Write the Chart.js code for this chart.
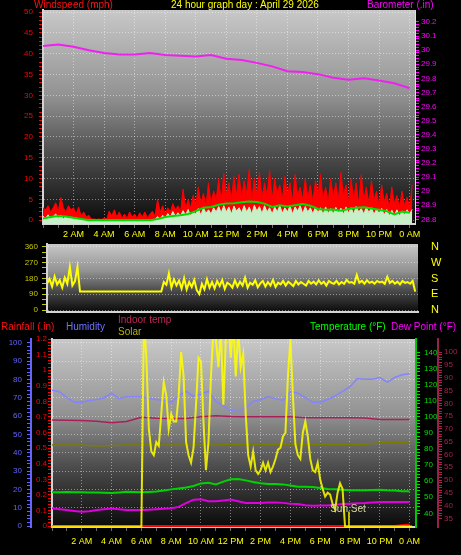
<!DOCTYPE html>
<html>
<head>
<meta charset="utf-8">
<script src="https://cdn.jsdelivr.net/npm/chart.js@4.4.1/dist/chart.umd.min.js"></script>
<style>
  body { margin: 0; background: #000; width: 461px; height: 555px; overflow: hidden; position: relative; font-family: "Liberation Sans", Arial, sans-serif; }
  canvas { position: absolute; left: 0; }
  .t { position: absolute; font-size: 10px; line-height: 12px; white-space: nowrap; }
</style>
</head>
<body>
<canvas id="windChart" width="461" height="243" style="top:0"></canvas>
<canvas id="dirChart" width="461" height="80" style="top:238px"></canvas>
<canvas id="tempChart" width="461" height="237" style="top:318px"></canvas>

<div class="t" style="left:34px;top:-1px;color:#ff1010">Windspeed (mph)</div>
<div class="t" style="left:171px;top:-1px;color:#ffff00">24 hour graph day : April 29 2026</div>
<div class="t" style="left:367px;top:-1px;color:#ff00ff">Barometer (.in)</div>
<div class="t" style="left:1px;top:321px;color:#ff1010">Rainfall (.in)</div>
<div class="t" style="left:66px;top:321px;color:#7070ff">Humidity</div>
<div class="t" style="left:118px;top:314px;color:#c02858">Indoor temp</div>
<div class="t" style="left:118px;top:326px;color:#b4b400">Solar</div>
<div class="t" style="left:310px;top:321px;color:#00ff00">Temperature (°F)</div>
<div class="t" style="left:391px;top:321px;color:#ff00ff">Dew Point (°F)</div>

<script>
const FONT = "'Liberation Sans', Arial, sans-serif";
const NARROW = "'Liberation Sans Narrow', 'Arial Narrow', 'Liberation Sans', Arial, sans-serif";
const GRID = "rgba(255,255,255,0.45)";

// x labels at 2, 4, ... 24 hours
const TIME_LABELS = ["2 AM", "4 AM", "6 AM", "8 AM", "10 AM", "12 PM",
  "2 PM", "4 PM", "6 PM", "8 PM", "10 PM", "0 AM"];

// ---- top panel: wind + barometer ----
// every 10 minutes from 0:00
const WIND_GUST = [
  3, 2.5, 3.5, 2, 3, 4.2,
  2.2, 5.5, 3, 2, 3.5, 2.5,
  3, 1.5, 3.2, 1, 2, 0.8,
  1.2, 0.3, 0.3, 0.2, 0.3, 0.2,
  0.5, 0.3, 2.2, 1, 2.5, 0.8,
  2, 0.5, 1.5, 0.5, 2, 0.8,
  1.5, 0.5, 1.8, 0.8, 2, 0.6,
  1.5, 2.2, 1, 5, 2, 3.5,
  1.5, 3, 2, 4, 2.5, 3.5,
  2, 7.5, 3, 5, 3, 6,
  3.5, 8, 4, 6.5, 3.5, 9,
  4, 7, 5, 10, 4.5, 11.3,
  6, 9, 5, 10.5, 6, 11,
  5.5, 9.5, 6.5, 12.3, 5, 10,
  6, 11.5, 5.5, 9, 6, 12,
  5, 10, 6.5, 8.5, 5, 10.5,
  6, 9, 4.5, 11, 6, 8,
  5, 10, 5.5, 8.5, 4.5, 9.5,
  6, 11, 5, 8, 4.5, 10,
  5.5, 9, 5, 11.5, 6, 8.5,
  4.5, 10, 5, 9, 4, 11,
  5, 8, 4, 9.5, 5, 7,
  3.5, 8.5, 4.5, 6.5, 3, 8,
  4, 6, 3, 7, 3.5, 5.5,
  3, 8.5
];
const WIND_SPEED = [
  1, 0.4, 1.3, 0.3, 0.9, 1.5,
  0.5, 1.2, 0.3, 1, 0.4, 0.8,
  0.3, 0.6, 0.2, 0.4, 0.1, 0.2,
  0, 0, 0, 0, 0, 0,
  0, 0, 0, 0, 0, 0,
  0, 0, 0, 0, 0, 0,
  0, 0, 0, 0, 0, 0,
  0, 0, 0.2, 0.9, 0.3, 1.2,
  0.4, 1.6, 0.8, 2.1, 0.9, 1.8,
  1, 2.3, 1.2, 2.6, 1, 2,
  1.5, 2.8, 1.2, 3, 1.7, 2.5,
  1.5, 3, 2, 3.3, 1.8, 3.5,
  2, 3.2, 1.5, 3.4, 2.2, 3,
  1.8, 3.5, 2, 3.2, 1.5, 3.6,
  2.2, 3.3, 1.6, 3.5, 2, 3,
  1.5, 3.2, 2, 3.5, 1.7, 3,
  2, 3.4, 1.5, 3.2, 2.2, 3.5,
  1.6, 3.3, 2, 3, 1.5, 3.2,
  1.8, 3, 1.4, 3.2, 1.6, 2.8,
  1.5, 3.1, 1.8, 2.9, 1.4, 3.2,
  1.7, 3, 1.5, 3.3, 2, 2.8,
  1.5, 3.2, 1.8, 3, 1.4, 2.7,
  1.6, 2.9, 1.2, 2.6, 1, 2.4,
  1.2, 2.5, 1, 2.2, 1.3, 2.5,
  1.5, 2.6
];
// every 30 minutes
const WIND_AVG = [
  0.4, 0.8, 1.0, 0.9, 0.6, 0.3, 0, 0, 0, 0,
  0, 0, 0, 0, 0, 0.3, 0.8, 1.0, 1.2, 1.5,
  2.2, 3.0, 3.2, 3.7, 4.0, 4.1, 4.3, 4.5, 4.4, 4.0,
  3.2, 3.6, 3.3, 3.6, 3.9, 3.5, 2.7, 2.5, 2.6, 2.3,
  2.7, 3.0, 3.1, 2.8, 2.5, 2.2, 1.4, 2.1, 1.8
];
// hourly
const BAROMETER = [
  30.03, 30.04, 30.025, 30.0, 29.98, 29.97, 29.97, 29.98, 29.965, 29.96,
  29.955, 29.965, 29.94, 29.93, 29.91, 29.885, 29.85, 29.845, 29.83, 29.805,
  29.79, 29.8, 29.785, 29.765, 29.73
];
const WIND_TICKS = [0, 5, 10, 15, 20, 25, 30, 35, 40, 45, 50];
const BARO_TICKS = [28.8, 28.9, 29, 29.1, 29.2, 29.3, 29.4, 29.5, 29.6, 29.7, 29.8, 29.9, 30, 30.1, 30.2];

// ---- middle panel: wind direction, every 10 minutes ----
const WIND_DIR = [
  150, 178, 135, 192, 145, 170,
  128, 185, 150, 246, 140, 165,
  246, 105, 105, 105, 105, 105,
  105, 105, 105, 105, 105, 105,
  105, 105, 105, 105, 105, 105,
  105, 105, 105, 105, 105, 105,
  105, 105, 105, 105, 105, 105,
  105, 105, 105, 105, 160, 145,
  210, 128, 175, 140, 168, 122,
  182, 118, 160, 132, 172, 112,
  91, 150, 118, 176, 128, 160,
  124, 166, 138, 172, 120, 156,
  146, 128, 170, 134, 162, 140,
  185, 128, 156, 144, 170, 130,
  152, 166, 134, 160, 140, 172,
  132, 156, 146, 166, 140, 162,
  150, 136, 166, 146, 160, 150,
  140, 166, 150, 162, 146, 170,
  150, 162, 140, 166, 155, 150,
  166, 146, 160, 150, 172, 156,
  160, 150, 200, 156, 166, 150,
  170, 155, 162, 150, 166, 158,
  162, 150, 190, 155, 166, 150,
  162, 146, 166, 155, 160, 150,
  166, 105
];
const DIR_TICKS = [0, 90, 180, 270, 360];
const DIR_NAMES = ["N", "E", "S", "W", "N"];

// ---- bottom panel ----
// every 30 minutes
const HUMIDITY = [
  74, 73.3, 70, 67.5, 67.5, 68.5, 69, 70, 72.5, 69.5,
  70.5, 70.5, 70.5, 69.5, 69, 68.5, 67.5, 71, 73.5, 70.7,
  72, 73.5, 68, 65.5, 63, 62.5, 64.5, 68, 69, 70.5,
  69.5, 68.5, 73.3, 72.5, 70, 67.5, 67.5, 69, 71, 73.5,
  76, 80.5, 80, 80, 81, 78.5, 81, 82.5, 83
];
const TEMPERATURE = [
  53.1, 53.1, 53.2, 53.1, 53.1, 53.0, 53.0, 52.8, 52.6, 53.0,
  53.4, 53.2, 53.1, 53.3, 53.6, 54.2, 54.9, 55.4, 56.0, 57.0,
  58.6, 59.0, 58.0, 59.7, 61.2, 61.3, 60.5, 59.5, 58.7, 58.3,
  58.3, 58.0, 57.3, 56.6, 56.6, 56.3, 55.8, 55.2, 55.0, 54.6,
  54.3, 54.3, 54.4, 54.5, 54.6, 54.3, 54.2, 53.8, 53.7
];
const DEW_POINT = [
  43.1, 42.5, 42, 41.5, 41, 41.3, 42, 42.5, 43, 42.5,
  42, 42, 42, 42.3, 42.5, 42.8, 43.2, 44.0, 46.3, 48.5,
  48.8, 47.5, 47.5, 48.0, 48.6, 47.5, 46.5, 46.5, 46.5, 46.8,
  46.8, 46.5, 46, 45.8, 45.0, 44.7, 44.8, 44.9, 45.4, 45.8,
  46.0, 46.2, 46.4, 46.8, 47.0, 47.0, 47.0, 47.0, 47.0
];
// hourly
const INDOOR_TEMP = [
  73.5, 73.4, 73.3, 73.0, 72.4, 72.9, 74.6, 74.2, 74.1, 74.1,
  74.8, 75.2, 74.9, 74.8, 74.8, 74.8, 74.8, 74.4, 74.4, 74.4,
  74.4, 74.3, 73.7, 73.7, 73.7
];
const OLIVE_LINE = [
  63.7, 63.7, 63.7, 63.3, 63.5, 63.7, 63.7, 63.7, 63.7, 63.7,
  63.7, 63.7, 64.0, 64.0, 64.0, 64.0, 64.0, 64.0, 64.0, 64.0,
  64.0, 64.0, 64.6, 64.6, 64.6
];
const RAINFALL = [
  0, 0, 0, 0, 0, 0, 0, 0, 0, 0,
  0, 0, 0, 0, 0, 0, 0, 0, 0, 0,
  0, 0, 0, 0, 0.01
];
// every 10 minutes, W/m2
const SOLAR = [
  0, 0, 0, 0, 0, 0,
  0, 0, 0, 0, 0, 0,
  0, 0, 0, 0, 0, 0,
  0, 0, 0, 0, 0, 0,
  0, 0, 0, 0, 0, 0,
  0, 0, 0, 0, 0, 0,
  0, 1100, 900, 520, 400, 380,
  450, 430, 600, 770, 700, 520,
  600, 560, 560, 700, 930, 800,
  450, 380, 340, 420, 650, 900,
  880, 560, 300, 450, 800, 1050,
  1000, 850, 1050, 650, 1000, 1100,
  900, 1100, 800, 1050, 850, 920,
  600, 380, 320, 400, 300, 280,
  300, 340, 300, 340, 290, 320,
  360, 410, 420, 480, 500, 800,
  1000, 700, 440, 380, 360, 500,
  560, 480, 360, 300, 290, 340,
  250, 200, 160, 180, 170, 120,
  90, 180, 230, 200, 0, 0,
  0, 0, 0, 0, 0, 0,
  0, 0, 0, 0, 0, 0,
  0, 0, 0, 0, 0, 0,
  0, 0, 0, 0, 0, 0,
  0, 0
];
const SUN_SET_HOUR = 19.93;
const SUN_SET_MARK = 80;
const HUM_TICKS = [0, 10, 20, 30, 40, 50, 60, 70, 80, 90, 100];
const RAIN_TICKS = [0, 0.1, 0.2, 0.3, 0.4, 0.5, 0.6, 0.7, 0.8, 0.9, 1, 1.1, 1.2];
const TEMP_TICKS = [40, 50, 60, 70, 80, 90, 100, 110, 120, 130, 140];
const DEW_TICKS = [35, 40, 45, 50, 55, 60, 65, 70, 75, 80, 85, 90, 95, 100];

Chart.defaults.font.family = FONT;

function pts(values, step) {
  return values.map((v, i) => ({ x: +(i * step).toFixed(4), y: v }));
}

function stepTicks(from, to, step) {
  const out = [];
  const n = Math.round((to - from) / step);
  for (let i = 0; i <= n; i++) out.push({ value: Math.round((from + i * step) * 1000) / 1000 });
  return out;
}

function isOn(list, v) {
  return list.some(m => Math.abs(m - v) < 1e-6);
}

function valueAxis(o) {
  const tl = o.tickLength === undefined ? 4 : o.tickLength;
  return {
    type: "linear",
    position: o.position,
    weight: o.weight || 0,
    min: o.min,
    max: o.max,
    afterBuildTicks: s => { s.ticks = stepTicks(o.major[0], o.major[o.major.length - 1], o.minor); },
    afterFit: s => { s.width = o.width; s.paddingTop = 0; s.paddingBottom = 0; },
    grid: {
      drawOnChartArea: !!o.grid,
      drawTicks: tl > 0,
      tickLength: tl,
      tickColor: o.color,
      color: c => (c.tick && isOn(o.major, c.tick.value)) ? GRID : "rgba(0,0,0,0)"
    },
    border: { display: !!o.border, color: o.border, width: o.borderWidth || 2, dash: [1, 2] },
    ticks: {
      autoSkip: false,
      color: o.color,
      padding: o.padding,
      font: { family: FONT, size: o.size || 8 },
      callback: v => {
        if (!isOn(o.major, v)) return "";
        if (o.names) return o.names[o.major.findIndex(m => Math.abs(m - v) < 1e-6)];
        return String(Math.round(v * 100) / 100);
      }
    }
  };
}

function timeAxis(max, height, padding, showLabels) {
  return {
    type: "linear",
    position: "bottom",
    min: 0,
    max: max,
    afterBuildTicks: s => { s.ticks = stepTicks(0, 24, 1); },
    afterFit: s => { s.height = height; s.paddingLeft = 0; s.paddingRight = 0; },
    grid: {
      drawOnChartArea: showLabels,
      drawTicks: showLabels,
      tickLength: 4,
      tickColor: "#6a6a6a",
      color: c => (c.tick && c.tick.value > 0 && c.tick.value % 2 === 0) ? GRID : "rgba(0,0,0,0)"
    },
    border: { color: "#d4d4d4", width: 2, dash: [1, 2] },
    ticks: {
      display: showLabels,
      autoSkip: false,
      maxRotation: 0,
      color: "#ffff00",
      padding: padding,
      font: { family: NARROW, size: 9 },
      callback: v => (v > 0 && v % 2 === 0) ? TIME_LABELS[v / 2 - 1] : ""
    }
  };
}

const plotBackground = {
  id: "plotBackground",
  beforeDraw(chart) {
    const { ctx, chartArea: a } = chart;
    const g = ctx.createLinearGradient(0, a.top, 0, a.bottom);
    g.addColorStop(0, "#c8c8c8");
    g.addColorStop(0.4, "#929292");
    g.addColorStop(0.68, "#4c4c4c");
    g.addColorStop(1, "#0a0a0a");
    ctx.save();
    ctx.fillStyle = g;
    ctx.fillRect(a.left, a.top, a.width, a.height);
    ctx.restore();
  }
};

const sunSetLabel = {
  id: "sunSetLabel",
  afterDatasetsDraw(chart) {
    const { ctx, scales } = chart;
    const x = scales.x.getPixelForValue(SUN_SET_HOUR);
    const y = scales.ySolar.getPixelForValue(SUN_SET_MARK);
    ctx.save();
    ctx.font = "10px " + FONT;
    ctx.fillStyle = "#d8d8a8";
    ctx.textAlign = "center";
    ctx.textBaseline = "alphabetic";
    ctx.fillText("Sun Set", x - 1, y + 1);
    ctx.restore();
  }
};

function baseOptions(padding, scales) {
  return {
    responsive: false,
    animation: false,
    events: [],
    layout: { padding: padding },
    elements: { point: { radius: 0 }, line: { tension: 0 } },
    plugins: { legend: { display: false }, tooltip: { enabled: false } },
    scales: scales
  };
}

// top panel
new Chart(document.getElementById("windChart"), {
  type: "line",
  data: {
    datasets: [
      { label: "Barometer", data: pts(BAROMETER, 1), yAxisID: "yBaro", borderColor: "#f020f0", borderWidth: 2 },
      { label: "Average speed", data: pts(WIND_AVG, 0.5), yAxisID: "yWind", borderColor: "#00dd00", borderWidth: 2 },
      { label: "Wind speed", data: pts(WIND_SPEED, 1 / 6), yAxisID: "yWind", borderColor: "#c8f0c8", backgroundColor: "#c8f0c8", borderWidth: 1, fill: "start" },
      { label: "Gust", data: pts(WIND_GUST, 1 / 6), yAxisID: "yWind", borderColor: "#ff0000", backgroundColor: "#ff0000", borderWidth: 1, fill: "start" }
    ]
  },
  options: baseOptions({ top: 10, left: 0, right: 0, bottom: 0 }, {
    x: timeAxis(24.35, 19, 1, true),
    yWind: valueAxis({ position: "left", min: -0.9, max: 50.5, major: WIND_TICKS, minor: 1, width: 43, color: "#ff0000", border: "#d4d4d4", padding: 6, grid: true }),
    yBaro: valueAxis({ position: "right", min: 28.767, max: 30.285, major: BARO_TICKS, minor: 0.02, width: 46, color: "#ff00ff", border: "#e0e0e0", borderWidth: 1, padding: 2 })
  }),
  plugins: [plotBackground]
});

// middle panel
new Chart(document.getElementById("dirChart"), {
  type: "line",
  data: {
    datasets: [
      { label: "Wind direction", data: pts(WIND_DIR, 1 / 6), yAxisID: "yDir", borderColor: "#ffff00", borderWidth: 2 }
    ]
  },
  options: baseOptions({ top: 6, left: 0, right: 0, bottom: 0 }, {
    x: timeAxis(24.35, 6, 0, false),
    yDir: valueAxis({ position: "left", min: -11.4, max: 377, major: DIR_TICKS, minor: 30, width: 47, color: "#c8c800", border: "#d4d4d4", padding: 4, tickLength: 5, grid: true }),
    yCompass: valueAxis({ position: "right", min: -11.4, max: 377, major: DIR_TICKS, minor: 90, names: DIR_NAMES, width: 43, color: "#ffff00", border: null, padding: 13, tickLength: 0, size: 11 })
  }),
  plugins: [plotBackground]
});

// bottom panel
new Chart(document.getElementById("tempChart"), {
  type: "line",
  data: {
    datasets: [
      { label: "Solar", data: pts(SOLAR, 1 / 6), yAxisID: "ySolar", borderColor: "rgba(255,255,0,0.85)", borderWidth: 2 },
      { label: "Sun Set", data: [{ x: SUN_SET_HOUR, y: 0 }, { x: SUN_SET_HOUR, y: SUN_SET_MARK }], yAxisID: "ySolar", borderColor: "#e8e800", borderWidth: 1.5 },
      { label: "Temperature", data: pts(TEMPERATURE, 0.5), yAxisID: "yTemp", borderColor: "#00d400", borderWidth: 2 },
      { label: "Dew Point", data: pts(DEW_POINT, 0.5), yAxisID: "yTemp", borderColor: "#e000e0", borderWidth: 2 },
      { label: "Humidity", data: pts(HUMIDITY, 0.5), yAxisID: "yHum", borderColor: "#8484ff", borderWidth: 1.5 },
      { label: "Indoor temp", data: pts(INDOOR_TEMP, 1), yAxisID: "yDew", borderColor: "#a8205a", borderWidth: 1.5 },
      { label: "Olive", data: pts(OLIVE_LINE, 1), yAxisID: "yDew", borderColor: "#7c7c00", borderWidth: 1.5 },
      { label: "Rainfall", data: pts(RAINFALL, 1), yAxisID: "yRain", borderColor: "#ff0000", borderWidth: 2 }
    ]
  },
  options: baseOptions({ top: 21, left: 0, right: 0, bottom: 0 }, {
    x: timeAxis(24.43, 28, 5, true),
    yRain: valueAxis({ position: "left", weight: 1, min: -0.006, max: 1.2, major: RAIN_TICKS, minor: 0.02, width: 21, color: "#ff0000", border: "#d4d4d4", padding: 1 }),
    yHum: valueAxis({ position: "left", weight: 2, min: -0.5, max: 102, major: HUM_TICKS, minor: 2, width: 31, color: "#6464ff", border: "#6464ff", padding: 5, grid: true }),
    yTemp: valueAxis({ position: "right", weight: 1, min: 31.5, max: 148.4, major: TEMP_TICKS, minor: 2, width: 22, color: "#00e000", border: "#00c800", padding: 4 }),
    yDew: valueAxis({ position: "right", weight: 2, min: 31.6, max: 105.2, major: DEW_TICKS, minor: 1, width: 23, color: "#a8204c", border: "#98204a", padding: 2 }),
    ySolar: { type: "linear", display: false, min: -3, max: 1000 }
  }),
  plugins: [plotBackground, sunSetLabel]
});
</script>
</body>
</html>
